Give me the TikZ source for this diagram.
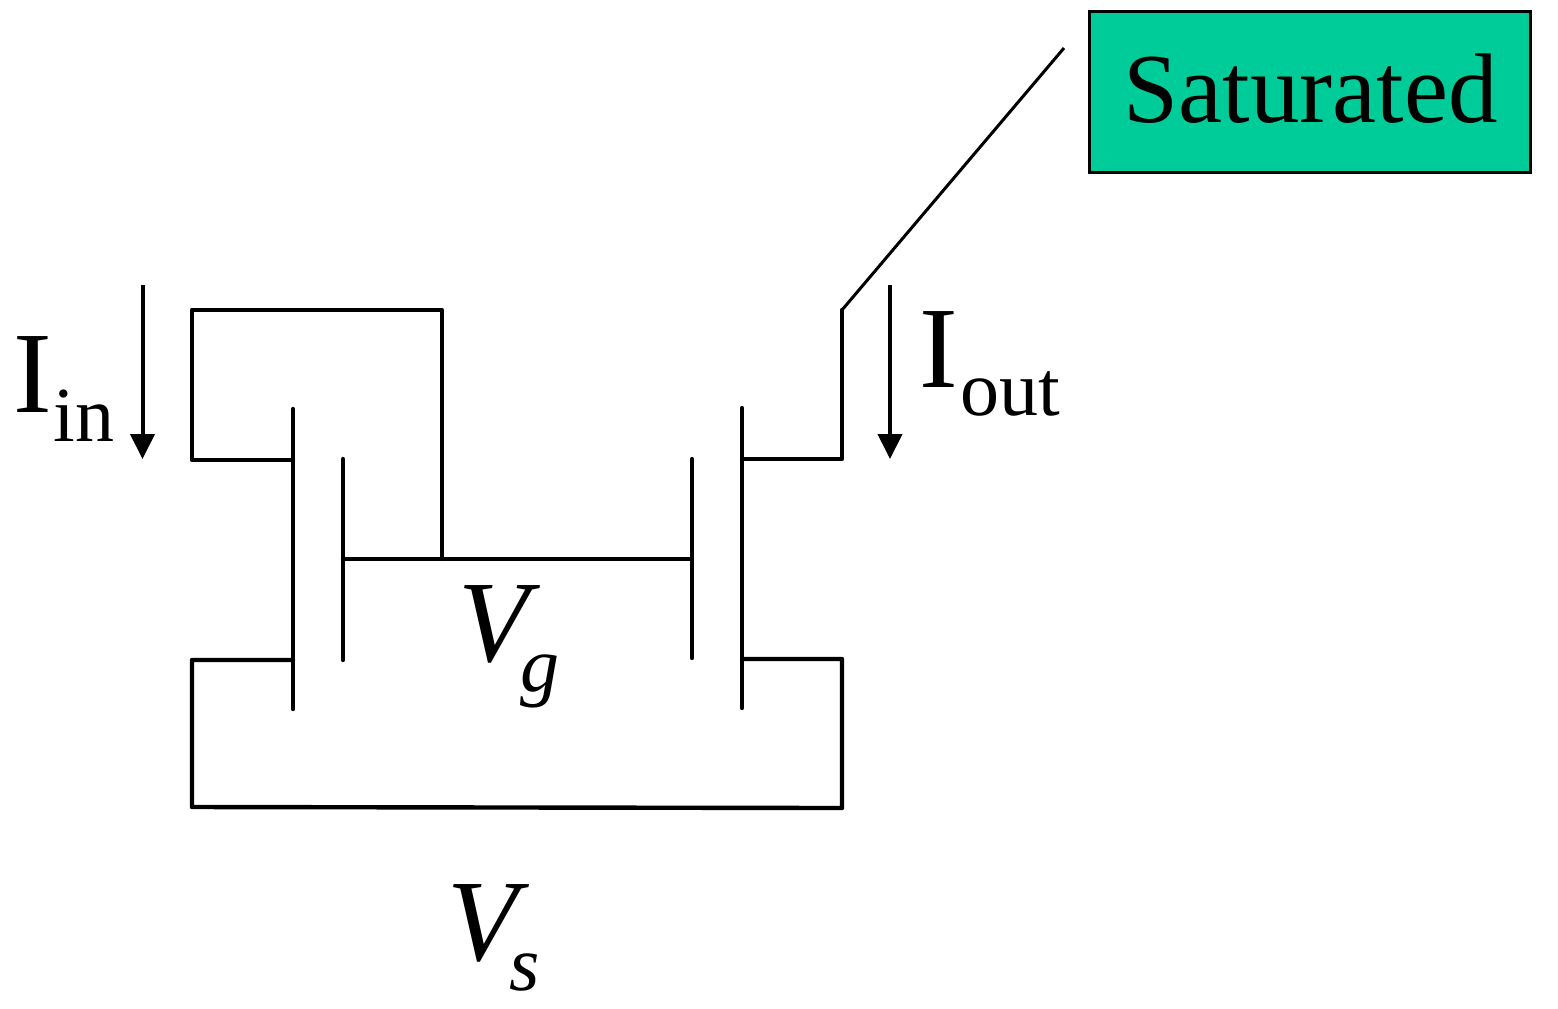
\documentclass[tikz,border=0pt]{standalone}
\usepackage{fontspec}
\setmainfont{Liberation Serif}
\usetikzlibrary{arrows.meta}
\definecolor{satgreen}{RGB}{0,204,153}
\tikzset{
  wire/.style={line width=2.2pt,line cap=round,line join=round},
  txt/.style={inner sep=0pt,anchor=base west},
  cur/.style={line width=2pt,-{Triangle[length=12.5pt,width=12pt]}}
}
\newcommand{\bigf}{\fontsize{58}{60}\selectfont}
\newcommand{\subf}{\fontsize{39}{42}\selectfont}
\begin{document}
\begin{tikzpicture}[x=0.5pt,y=-0.5pt]
\useasboundingbox (0,0) rectangle (1558,1008);
\node[draw,line width=1.5pt,fill=satgreen,minimum width=220.5pt,minimum height=80.5pt,inner sep=0pt,anchor=north west] (sat) at (1088,10) {};
\node[txt] (sattext) at (1123.5,122) {\fontsize{49.5}{52}\selectfont Saturated};
\coordinate (lead) at (1064,48);
\coordinate (d2) at (842,310);
\draw[line width=1.5pt] (lead) -- (d2);
% output transistor
\coordinate (d2b) at (842,459);
\coordinate (ch2t) at (742,408);
\coordinate (ch2b) at (742,708);
\coordinate (ch2d) at (742,459);
\coordinate (ch2s) at (742,659);
\coordinate (g2t) at (692,459);
\coordinate (g2b) at (692,658);
\coordinate (g2m) at (692,559);
\coordinate (s2) at (842,659);
\coordinate (bot2) at (842,808);
\coordinate (bot1) at (192,807);
\coordinate (s1) at (192,660);
\coordinate (ch1s) at (293,660);
\coordinate (ch1d) at (293,460);
\coordinate (ch1t) at (293,409);
\coordinate (ch1b) at (293,709);
\coordinate (g1t) at (343,459);
\coordinate (g1b) at (343,660);
\coordinate (g1m) at (343,559);
\coordinate (tap) at (442,559);
\coordinate (top2) at (442,310);
\coordinate (top1) at (192,310);
\coordinate (d1) at (192,460);
\draw[wire] (d2) -- (d2b) -- (ch2d);
\draw[wire] (ch2t) -- (ch2b);
\draw[wire] (g2t) -- (g2b);
\draw[wire] (ch2s) -- (s2) -- (bot2) -- (bot1) -- (s1) -- (ch1s);
\draw[wire] (ch1t) -- (ch1b);
\draw[wire] (g1t) -- (g1b);
\draw[wire] (g1m) -- (g2m);
\draw[wire] (tap) -- (top2) -- (top1) -- (d1) -- (ch1d);
% current arrows
\coordinate (a1s) at (142.5,285);
\coordinate (a1e) at (142.5,459);
\coordinate (a2s) at (890,285);
\coordinate (a2e) at (890,459);
\draw[cur] (a1s) -- (a1e);
\draw[cur] (a2s) -- (a2e);
% labels
\node[txt] (iin) at (13,412) {\bigf I};
\node[txt] (iinsub) at (53,441) {\subf in};
\node[txt] (iout) at (919,387) {\bigf I};
\node[txt] (ioutsub) at (960,415) {\subf out};
\node[txt] (vg) at (458,661) {\bigf\itshape V};
\node[txt] (vgsub) at (520,691) {\subf\itshape g};
\node[txt] (vs) at (447,960) {\bigf\itshape V};
\node[txt] (vssub) at (509,990) {\subf\itshape s};
\end{tikzpicture}
\end{document}
